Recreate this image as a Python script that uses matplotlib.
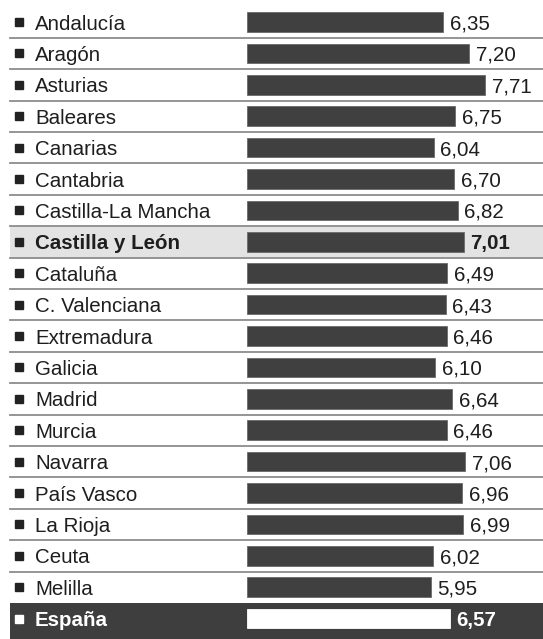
import matplotlib
matplotlib.use("Agg")
import matplotlib.pyplot as plt
import matplotlib.transforms as mtransforms

regions = ["Andalucía", "Aragón", "Asturias", "Baleares", "Canarias", "Cantabria",
           "Castilla-La Mancha", "Castilla y León", "Cataluña", "C. Valenciana",
           "Extremadura", "Galicia", "Madrid", "Murcia", "Navarra", "País Vasco",
           "La Rioja", "Ceuta", "Melilla", "España"]
values = [6.35, 7.20, 7.71, 6.75, 6.04, 6.70, 6.82, 7.01, 6.49, 6.43,
          6.46, 6.10, 6.64, 6.46, 7.06, 6.96, 6.99, 6.02, 5.95, 6.57]
highlight = "Castilla y León"
total = "España"

W, H = 543, 639
plt.rcParams['font.family'] = ['Liberation Sans', 'DejaVu Sans']
fig = plt.figure(figsize=(W / 100, H / 100), dpi=100)
ax = fig.add_axes([0, 0, 1, 1])

# pixel geometry -> data limits
x0_px, px_per_unit = 246.7, 30.93
y0_px, row_px = 22.0, 31.4
ax.set_xlim(-x0_px / px_per_unit, (W - x0_px) / px_per_unit)
ax.set_ylim((H - y0_px) / row_px, -y0_px / row_px)
ax.axis("off")

trans = mtransforms.blended_transform_factory(ax.transAxes, ax.transData)
left_frac = 10 / W
n = len(regions)
ymax = (H - y0_px) / row_px

dark = "#404040"
fs = 14.8
for i, (name, v) in enumerate(zip(regions, values)):
    is_total = name == total
    is_hl = name == highlight
    if is_hl:
        ax.axhspan(i - 0.5, i + 0.5, xmin=left_frac, xmax=1, color="#e3e3e3", zorder=0, lw=0)
    if is_total:
        ax.axhspan(i - 0.5, ymax, xmin=left_frac, xmax=1, color="#3e3e3e", zorder=0, lw=0)
    barcol = "white" if is_total else dark
    ax.barh(i, v, height=0.63, left=0, color=barcol, edgecolor="#6a6a6a" if not is_total else "white",
            linewidth=0.6, zorder=2)
    txtcol = "white" if is_total else "#1e1e1e"
    weight = "bold" if (is_total or is_hl) else "normal"
    ax.plot([19 / W], [i], marker="s", markersize=6.0, color="white" if is_total else "#222222",
            transform=trans, zorder=3, clip_on=False)
    ax.text(35 / W, i + 0.24, name, transform=trans, ha="left", va="baseline",
            fontsize=fs, color=txtcol, fontweight=weight, zorder=3)
    ax.text(v + 0.215, i + 0.24, f"{v:.2f}".replace(".", ","), ha="left", va="baseline",
            fontsize=fs, color=txtcol, fontweight=weight, zorder=3)

# separators
for k in range(n - 2):
    ax.plot([left_frac, 1], [k + 0.5, k + 0.5], color="#8c8c8c", lw=1.3, transform=trans, zorder=1)

fig.savefig("out.png", dpi=100)
